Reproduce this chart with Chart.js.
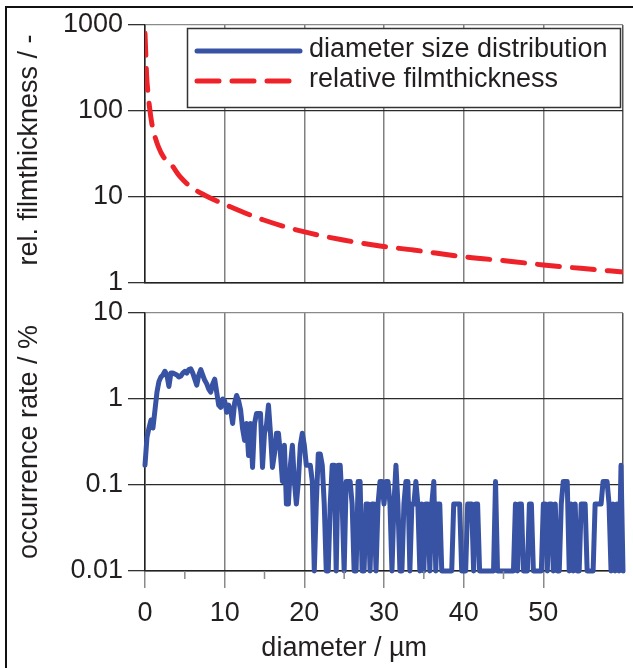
<!DOCTYPE html>
<html>
<head>
<meta charset="utf-8">
<script src="https://cdn.jsdelivr.net/npm/chart.js@4.4.1/dist/chart.umd.min.js"></script>
<style>
  html, body { margin: 0; padding: 0; background: #fff; }
  #wrap { position: relative; width: 633px; height: 668px; overflow: hidden; }
  #wrap canvas { position: absolute; left: 0; top: 0; }
  #frame {
    position: absolute; left: 5px; top: 6px; width: 700px; height: 700px;
    border-left: 2px solid #111; border-top: 2px solid #111;
  }
</style>
</head>
<body>
<div id="wrap">
  <div id="frame"></div>
  <canvas id="film-chart" width="633" height="668"></canvas>
  <canvas id="rate-chart" width="633" height="668"></canvas>
</div>
<script>
// 범례 / 축 이름
const seriesLabels = ['diameter size distribution', 'relative filmthickness'];
const yTitles = ['rel. filmthickness / -', 'occurrence rate / %'];
const xTitle = 'diameter / µm';

// 눈금
const xTicks = [0, 10, 20, 30, 40, 50];
const xMinorTicks = [5, 15, 25, 35, 45];
const filmTicks = [1, 10, 100, 1000];
const rateTicks = [0.01, 0.1, 1, 10];

// 상대 막두께 (빨간 점선)
const filmDiameters = [0, 0.1, 0.2, 0.35, 0.63, 0.9, 1.26, 1.7, 2.3, 3.35, 4.4, 5.8, 7.5,
  10.7, 14.9, 19.9, 24.9, 29.5, 33.7, 40, 46.3, 50, 54.7, 60];
const filmThickness = [800, 450, 260, 170, 100, 68, 50, 38, 29.4, 23.5, 17.2, 13, 10.5,
  7.7, 5.4, 3.95, 3.16, 2.69, 2.42, 2.02, 1.77, 1.62, 1.48, 1.34];

// 직경 분포 (파란 선)
const diameters = [
  0, 0.25, 0.5, 0.75, 1, 1.25, 1.5, 1.75, 2, 2.25, 2.5, 2.75, 3, 3.25, 3.5, 3.75, 4, 4.25, 4.5, 4.75,
  5, 5.25, 5.5, 5.75, 6, 6.25, 6.5, 6.75, 7, 7.25, 7.5, 7.75, 8, 8.25, 8.5, 8.75, 9, 9.25, 9.5, 9.75,
  10, 10.25, 10.5, 10.75, 11, 11.25, 11.5, 11.75, 12, 12.25, 12.5, 12.75, 13, 13.25, 13.5, 13.75, 14, 14.25, 14.5, 14.75,
  15, 15.25, 15.5, 15.75, 16, 16.25, 16.5, 16.75, 17, 17.25, 17.5, 17.75, 18, 18.25, 18.5, 18.75, 19, 19.25, 19.5, 19.75,
  20, 20.25, 20.5, 20.75, 21, 21.25, 21.5, 21.75, 22, 22.25, 22.5, 22.75, 23, 23.25, 23.5, 23.75, 24, 24.25, 24.5, 24.75,
  25, 25.25, 25.5, 25.75, 26, 26.25, 26.5, 26.75, 27, 27.25, 27.5, 27.75, 28, 28.25, 28.5, 28.75, 29, 29.25, 29.5, 29.75,
  30, 30.25, 30.5, 30.75, 31, 31.25, 31.5, 31.75, 32, 32.25, 32.5, 32.75, 33, 33.25, 33.5, 33.75, 34, 34.25, 34.5, 34.75,
  35, 35.25, 35.5, 35.75, 36, 36.25, 36.5, 36.75, 37, 37.25, 37.5, 37.75, 38, 38.25, 38.5, 38.75, 39, 39.25, 39.5, 39.75,
  40, 40.25, 40.5, 40.75, 41, 41.25, 41.5, 41.75, 42, 42.25, 42.5, 42.75, 43, 43.25, 43.5, 43.75, 44, 44.25, 44.5, 44.75,
  45, 45.25, 45.5, 45.75, 46, 46.25, 46.5, 46.75, 47, 47.25, 47.5, 47.75, 48, 48.25, 48.5, 48.75, 49, 49.25, 49.5, 49.75,
  50, 50.25, 50.5, 50.75, 51, 51.25, 51.5, 51.75, 52, 52.25, 52.5, 52.75, 53, 53.25, 53.5, 53.75, 54, 54.25, 54.5, 54.75,
  55, 55.25, 55.5, 55.75, 56, 56.25, 56.5, 56.75, 57, 57.25, 57.5, 57.75, 58, 58.25, 58.5, 58.75, 59, 59.25, 59.5, 59.75,
  60
];
const occurrenceRate = [
  0.17, 0.36, 0.46, 0.57, 0.46, 0.74, 1.2, 1.6, 1.8, 1.9, 2.1, 1.9, 1.4, 2.0, 2.0, 1.95, 1.9, 1.8, 1.85, 2.0,
  2.1, 2.0, 2.2, 2.25, 2.0, 1.7, 1.45, 1.9, 2.2, 1.9, 1.65, 1.5, 1.3, 1.2, 1.5, 1.7, 1.2, 0.85, 0.8, 1.0,
  0.95, 0.7, 0.85, 0.75, 0.52, 0.9, 1.1, 0.95, 0.75, 0.45, 0.33, 0.52, 0.22, 0.52, 0.16, 0.52, 0.68, 0.68, 0.68, 0.16,
  0.4, 0.5, 0.85, 0.4, 0.16, 0.23, 0.4, 0.4, 0.23, 0.11, 0.29, 0.06, 0.06, 0.17, 0.29, 0.11, 0.06, 0.11, 0.29, 0.4,
  0.29, 0.17, 0.17, 0.17, 0.11, 0.01, 0.06, 0.23, 0.23, 0.17, 0.06, 0.01, 0.01, 0.06, 0.17, 0.17, 0.01, 0.17, 0.17, 0.06,
  0.01, 0.11, 0.11, 0.11, 0.06, 0.01, 0.01, 0.11, 0.11, 0.01, 0.01, 0.06, 0.06, 0.01, 0.06, 0.06, 0.01, 0.06, 0.11, 0.11,
  0.06, 0.11, 0.11, 0.06, 0.01, 0.06, 0.17, 0.06, 0.01, 0.01, 0.06, 0.11, 0.11, 0.01, 0.06, 0.06, 0.11, 0.06, 0.01, 0.06,
  0.01, 0.06, 0.06, 0.01, 0.06, 0.11, 0.01, 0.06, 0.06, 0.01, 0.01, 0.01, 0.01, 0.01, 0.01, 0.06, 0.06, 0.06, 0.06, 0.01,
  0.01, 0.01, 0.06, 0.06, 0.06, 0.01, 0.06, 0.06, 0.01, 0.01, 0.01, 0.01, 0.01, 0.01, 0.01, 0.01, 0.11, 0.01, 0.01, 0.01,
  0.01, 0.01, 0.01, 0.01, 0.01, 0.01, 0.06, 0.01, 0.06, 0.06, 0.01, 0.01, 0.01, 0.06, 0.06, 0.01, 0.01, 0.01, 0.01, 0.01,
  0.06, 0.06, 0.01, 0.06, 0.06, 0.01, 0.06, 0.01, 0.01, 0.06, 0.11, 0.11, 0.11, 0.01, 0.06, 0.01, 0.06, 0.01, 0.01, 0.06,
  0.06, 0.06, 0.01, 0.01, 0.01, 0.01, 0.06, 0.06, 0.06, 0.06, 0.11, 0.11, 0.11, 0.06, 0.01, 0.06, 0.01, 0.06, 0.01, 0.17,
  0.01
];

const blue = '#3953a4';
const red = '#ee2229';
const textColor = '#231f20';
const font = "'Liberation Sans', Arial, sans-serif";
const fontSize = 27;

// 축 이름, 범례, 보조 눈금 그리기
const decorPlugin = {
  id: 'decor',
  afterDraw(chart, args, opts) {
    const ctx = chart.ctx;
    const area = chart.chartArea;
    ctx.save();
    ctx.fillStyle = textColor;
    ctx.font = fontSize + 'px ' + font;

    ctx.save();
    ctx.translate(37, (area.top + area.bottom) / 2 + (opts.yShift || 0));
    ctx.rotate(-Math.PI / 2);
    ctx.textAlign = 'center';
    ctx.textBaseline = 'alphabetic';
    ctx.fillText(opts.yTitle, 0, 0);
    ctx.restore();

    if (opts.legend) {
      ctx.fillStyle = '#fff';
      ctx.fillRect(187, 28, 433, 79);
      ctx.strokeStyle = '#333';
      ctx.lineWidth = 1.5;
      ctx.strokeRect(187.5, 28.5, 433, 79);
      const rows = [
        { text: seriesLabels[0], color: blue, dash: [], y: 51 },
        { text: seriesLabels[1], color: red, dash: [22, 13], y: 81 },
      ];
      for (const r of rows) {
        ctx.beginPath();
        ctx.setLineDash(r.dash);
        ctx.strokeStyle = r.color;
        ctx.lineWidth = 5;
        ctx.lineCap = 'round';
        ctx.moveTo(197, r.y);
        ctx.lineTo(300, r.y);
        ctx.stroke();
        ctx.setLineDash([]);
        ctx.fillStyle = textColor;
        ctx.textAlign = 'left';
        ctx.textBaseline = 'alphabetic';
        ctx.fillText(r.text, 309, r.y + 6);
      }
    }

    if (opts.xTitle) {
      const xs = chart.scales.x;
      ctx.strokeStyle = '#8a8a8a';
      ctx.lineWidth = 1.5;
      for (const v of xMinorTicks) {
        const px = xs.getPixelForValue(v);
        ctx.beginPath();
        ctx.moveTo(px, area.bottom);
        ctx.lineTo(px, area.bottom + 8);
        ctx.stroke();
      }
      const cx = (xs.getPixelForValue(xTicks[0]) + xs.getPixelForValue(xTicks[xTicks.length - 1])) / 2;
      ctx.fillStyle = textColor;
      ctx.textAlign = 'center';
      ctx.textBaseline = 'alphabetic';
      ctx.fillText(opts.xTitle, cx, 656);
    }
    ctx.restore();
  },
};

function xScale(showLabels) {
  return {
    type: 'linear',
    min: 0,
    max: 60,
    afterBuildTicks: (scale) => {
      scale.ticks = xTicks.concat([60]).map((v) => ({ value: v }));
    },
    afterFit: (scale) => {
      scale.height = showLabels ? 60 : 0;
    },
    border: { color: '#222', width: 1.5 },
    grid: {
      color: (c) => (c.tick && c.tick.value === 60 ? '#555' : '#808080'),
      lineWidth: 1.5,
      drawTicks: showLabels,
      tickLength: 17,
      tickColor: (c) => (c.tick && c.tick.value <= 50 ? '#8a8a8a' : 'rgba(0,0,0,0)'),
    },
    ticks: {
      display: showLabels,
      padding: 9,
      color: textColor,
      font: { family: font, size: fontSize },
      maxRotation: 0,
      callback: (v) => (v <= 50 ? String(v) : ''),
    },
  };
}

function yScale(ticks) {
  return {
    type: 'logarithmic',
    min: ticks[0],
    max: ticks[ticks.length - 1],
    afterBuildTicks: (scale) => {
      scale.ticks = ticks.map((v) => ({ value: v }));
    },
    afterFit: (scale) => {
      scale.width = 145;
    },
    border: { color: '#222', width: 1.5 },
    grid: {
      color: (c) => (c.tick && c.tick.value === ticks[ticks.length - 1] ? '#8a8a8a' : '#2a2a2a'),
      lineWidth: 1.3,
      tickLength: 17,
      tickColor: '#333',
    },
    ticks: {
      padding: 5,
      color: textColor,
      font: { family: font, size: fontSize },
      callback: (v) => String(v),
    },
  };
}

// 위: 상대 막두께
new Chart(document.getElementById('film-chart'), {
  type: 'line',
  data: {
    datasets: [{
      label: seriesLabels[1],
      data: filmDiameters.map((d, i) => ({ x: d, y: filmThickness[i] })),
      borderColor: red,
      borderWidth: 5,
      borderDash: [22, 13],
      borderCapStyle: 'round',
      cubicInterpolationMode: 'monotone',
      pointRadius: 0,
      fill: false,
    }],
  },
  options: {
    responsive: false,
    animation: false,
    layout: { padding: { left: 0, right: 10, top: 25, bottom: 385 } },
    plugins: {
      legend: { display: false },
      tooltip: { enabled: false },
      decor: { yTitle: yTitles[0], yShift: -4, legend: true },
    },
    scales: { x: xScale(false), y: yScale(filmTicks) },
  },
  plugins: [decorPlugin],
});

// 아래: 직경 분포
new Chart(document.getElementById('rate-chart'), {
  type: 'line',
  data: {
    datasets: [{
      label: seriesLabels[0],
      data: diameters.map((d, i) => ({ x: d, y: occurrenceRate[i] })),
      borderColor: blue,
      borderWidth: 5,
      borderJoinStyle: 'round',
      borderCapStyle: 'round',
      pointRadius: 0,
      fill: false,
      clip: 4,
    }],
  },
  options: {
    responsive: false,
    animation: false,
    layout: { padding: { left: 0, right: 10, top: 313, bottom: 37 } },
    plugins: {
      legend: { display: false },
      tooltip: { enabled: false },
      decor: { yTitle: yTitles[1], xTitle: xTitle },
    },
    scales: { x: xScale(true), y: yScale(rateTicks) },
  },
  plugins: [decorPlugin],
});
</script>
</body>
</html>
